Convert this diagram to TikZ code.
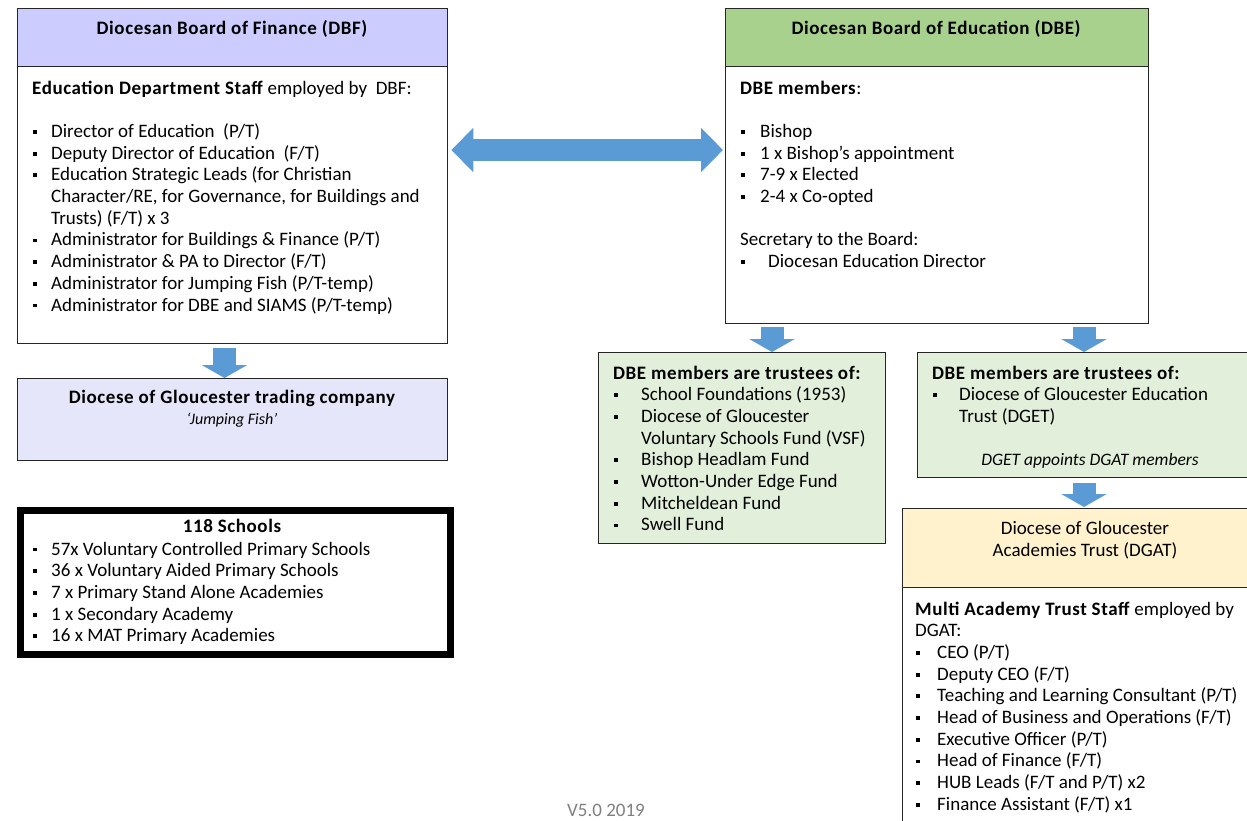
\documentclass[tikz,border=0pt]{standalone}
\usepackage{fontspec}
\setmainfont{Carlito}[BoldFeatures={LetterSpace=3}]
\usetikzlibrary{calc,arrows.meta}
\definecolor{dbfhead}{HTML}{CCCCFF}
\definecolor{jfish}{HTML}{E6E6FB}
\definecolor{dbehead}{HTML}{A9D18E}
\definecolor{trust}{HTML}{E2EFDA}
\definecolor{dgat}{HTML}{FFF2CC}
\definecolor{arrowblue}{HTML}{5B9BD5}
\definecolor{boxline}{HTML}{262626}
\definecolor{vgray}{HTML}{808080}
\newlength{\bw}
\newcommand{\sqbul}{\rule[3.6pt]{3.8pt}{3.8pt}}
\newcommand{\bitem}[2][19pt]{\par\setlength{\bw}{#1}\hangindent=\bw\hangafter=1\noindent\makebox[\bw][l]{\hspace{1pt}\sqbul}#2}
\newcommand{\blankline}{\par\noindent\mbox{}}
\newenvironment{boxtext}[1]{\begin{minipage}[t]{#1}\raggedright\setlength{\parindent}{0pt}}{\end{minipage}}
\begin{document}
\begin{tikzpicture}[x=1pt,y=-1pt,
  box/.style={draw=boxline, line width=1.3pt, inner sep=0pt, anchor=north west},
  body/.style={anchor=base west, inner sep=0pt, font=\fontsize{19}{21.7}\selectfont},
  title/.style={anchor=base, inner sep=0pt, font=\fontsize{19}{21.7}\selectfont\bfseries, align=center},
  blockarrow/.style={arrowblue, line width=23pt, -{Triangle[width=45pt,length=13pt]}},
  dblockarrow/.style={arrowblue, line width=22pt, {Triangle[width=43pt,length=22pt]}-{Triangle[width=43pt,length=22pt]}}
]
\clip (0,0) rectangle (1247,820);
\fill[white] (0,0) rectangle (1247,820);

% ---------- DBF ----------
\node[box, fill=dbfhead, minimum width=430pt, minimum height=58pt] (dbfh) at (17,8) {};
\node[box, fill=white, minimum width=430pt, minimum height=277pt] (dbfb) at (17,66) {};
\node[title] (dbft) at (232,34) {Diocesan Board of Finance (DBF)};
\node[body] (dbftxt) at (32,94) {\begin{boxtext}{412pt}
\textbf{Education Department Staff} employed by\ \ DBF:
\blankline
\bitem{Director of Education\ \ (P/T)}
\bitem{Deputy Director of Education\ \ (F/T)}
\bitem{Education Strategic Leads (for Christian\newline Character/RE, for Governance, for Buildings and\newline Trusts) (F/T) x 3}
\bitem{Administrator for Buildings \& Finance (P/T)}
\bitem{Administrator \& PA to Director (F/T)}
\bitem{Administrator for Jumping Fish (P/T-temp)}
\bitem{Administrator for DBE and SIAMS (P/T-temp)}
\end{boxtext}};

% ---------- Jumping Fish ----------
\node[box, fill=jfish, minimum width=430pt, minimum height=82pt] (jf) at (17,378) {};
\node[title] (jft) at (232,403) {Diocese of Gloucester trading company};
\node[anchor=base, inner sep=0pt, font=\fontsize{16}{18}\selectfont\itshape] (jfs) at (232,424) {`Jumping Fish'};

% ---------- Schools ----------
\node[draw=black, line width=7pt, inner sep=0pt, anchor=north west, minimum width=430.5pt, minimum height=144pt] (sch) at (16.5,507) {};
\node[title] (scht) at (232,532) {118 Schools};
\node[body] (schtxt) at (32,555) {\begin{boxtext}{410pt}
\bitem{57x Voluntary Controlled Primary Schools}
\bitem{36 x Voluntary Aided Primary Schools}
\bitem{7 x Primary Stand Alone Academies}
\bitem{1 x Secondary Academy}
\bitem{16 x MAT Primary Academies}
\end{boxtext}};

% ---------- DBE ----------
\node[box, fill=dbehead, minimum width=423pt, minimum height=58pt] (dbeh) at (725,8) {};
\node[box, fill=white, minimum width=423pt, minimum height=257pt] (dbeb) at (725,66) {};
\node[title] (dbet) at (936,34) {Diocesan Board of Education (DBE)};
\node[body] (dbetxt) at (740,94) {\begin{boxtext}{400pt}
\textbf{DBE members}:
\blankline
\bitem[20pt]{Bishop}
\bitem[20pt]{1 x Bishop's appointment}
\bitem[20pt]{7-9 x Elected}
\bitem[20pt]{2-4 x Co-opted}
\blankline
\par Secretary to the Board:
\bitem[28pt]{Diocesan Education Director}
\end{boxtext}};

% ---------- Trustees 1 ----------
\node[box, fill=trust, minimum width=287pt, minimum height=191pt] (tr1) at (598,352) {};
\node[body] (tr1txt) at (613,379) {\begin{boxtext}{270pt}
\textbf{DBE members are trustees of:}
\bitem[28pt]{School Foundations (1953)}
\bitem[28pt]{Diocese of Gloucester\newline Voluntary Schools Fund (VSF)}
\bitem[28pt]{Bishop Headlam Fund}
\bitem[28pt]{Wotton-Under Edge Fund}
\bitem[28pt]{Mitcheldean Fund}
\bitem[28pt]{Swell Fund}
\end{boxtext}};

% ---------- Trustees 2 ----------
\node[box, fill=trust, minimum width=345pt, minimum height=125pt] (tr2) at (917,352) {};
\node[body] (tr2txt) at (932,379) {\begin{boxtext}{310pt}
\textbf{DBE members are trustees of:}
\bitem[27pt]{Diocese of Gloucester Education\newline Trust (DGET)}
\end{boxtext}};
\node[anchor=base, inner sep=0pt, font=\fontsize{17.5}{21.7}\selectfont\itshape] (tr2note) at (1090,465) {DGET appoints DGAT members};

% ---------- DGAT ----------
\node[box, fill=dgat, minimum width=360pt, minimum height=79pt] (dgath) at (902,508) {};
\node[box, fill=white, minimum width=360pt, minimum height=250pt] (dgatb) at (902,587) {};
\node[anchor=base, inner sep=0pt, align=center, font=\fontsize{19}{21.7}\selectfont] (dgatt) at (1085,556) {Diocese of Gloucester\\Academies Trust (DGAT)};
\node[body] (dgattxt) at (915,615) {\begin{boxtext}{340pt}
\textbf{Multi Academy Trust Staff} employed by\newline DGAT:
\bitem[22pt]{CEO (P/T)}
\bitem[22pt]{Deputy CEO (F/T)}
\bitem[22pt]{Teaching and Learning Consultant (P/T)}
\bitem[22pt]{Head of Business and Operations (F/T)}
\bitem[22pt]{Executive Officer (P/T)}
\bitem[22pt]{Head of Finance (F/T)}
\bitem[22pt]{HUB Leads (F/T and P/T) x2}
\bitem[22pt]{Finance Assistant (F/T) x1}
\end{boxtext}};

% ---------- Block arrows ----------
\coordinate (a1) at ($(dbfb.south west)+(207.5,4)$);
\draw[blockarrow] (a1) -- (a1 |- jf.north);
\coordinate (a2) at ($(dbeb.south west)+(47,3)$);
\draw[blockarrow] (a2) -- (a2 |- tr1.north);
\coordinate (a3) at ($(dbeb.south west)+(359,3)$);
\draw[blockarrow] (a3) -- (a3 |- tr2.north);
\coordinate (a4) at ($(tr2.south west)+(167,5)$);
\draw[blockarrow] (a4) -- ($(a4 |- dgath.north)+(0,-1)$);
\coordinate (d1) at ($(dbfb.north east)+(3,84)$);
\coordinate (d2) at ($(dbeb.north west)+(-2,84)$);
\draw[dblockarrow] (d1) -- (d2);

% ---------- Version ----------
\node[anchor=base, inner sep=0pt, text=vgray, font=\fontsize{19}{21}\selectfont] (ver) at (606,816) {V5.0 2019};
\end{tikzpicture}
\end{document}
